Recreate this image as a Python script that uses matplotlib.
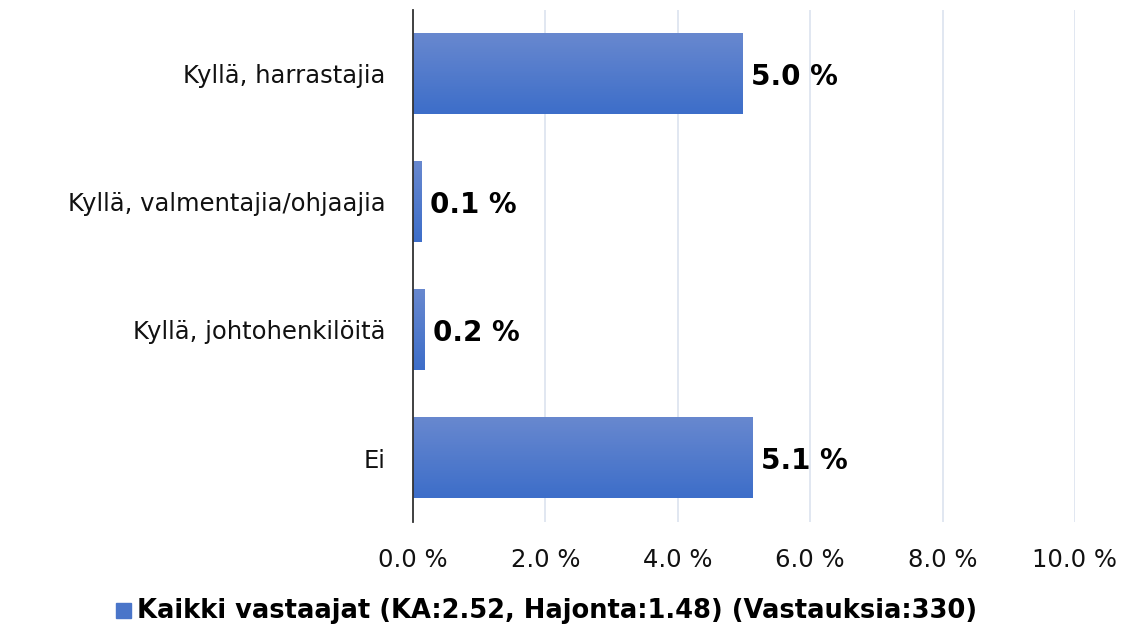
import numpy as np
import matplotlib.pyplot as plt
from matplotlib.colors import LinearSegmentedColormap

categories = ['Kyllä, harrastajia', 'Kyllä, valmentajia/ohjaajia', 'Kyllä, johtohenkilöitä', 'Ei']
values = [4.98, 0.13, 0.17, 5.13]
value_labels = ['5.0 %', '0.1 %', '0.2 %', '5.1 %']
ticks = [0, 2, 4, 6, 8, 10]
tick_labels = ['0.0 %', '2.0 %', '4.0 %', '6.0 %', '8.0 %', '10.0 %']
legend_label = 'Kaikki vastaajat (KA:2.52, Hajonta:1.48) (Vastauksia:330)'

plt.rcParams['font.family'] = ['DejaVu Sans']

fig = plt.figure(figsize=(11.28, 6.3), dpi=100)
ax = fig.add_axes([413 / 1128, 1 - 522 / 630, 662 / 1128, 512 / 630])

y = np.arange(len(categories))
h = 0.63
bars = ax.barh(y, values, height=h, color='#4a75c9', zorder=2)

# vertical gradient on each bar
cmap = LinearSegmentedColormap.from_list('g', ['#6888cf', '#3d6ec9'])
grad = np.linspace(0, 1, 100).reshape(-1, 1)
for b in bars:
    x0, y0 = b.get_x(), b.get_y()
    ax.imshow(grad, cmap=cmap, aspect='auto', zorder=3,
              extent=(x0, x0 + b.get_width(), y0 + b.get_height(), y0),
              origin='upper')

for yi, v, lab in zip(y, values, value_labels):
    ax.annotate(lab, (v, yi), xytext=(6, -2.5), textcoords='offset points',
                va='center', ha='left', fontsize=20, fontweight='bold',
                color='black', zorder=4)

ax.set_xlim(0, 10)
ax.set_ylim(len(categories) - 0.5, -0.5)
ax.set_xticks(ticks)
ax.set_xticklabels(tick_labels, fontsize=17.5, color='#111111')
ax.set_yticks(y)
ax.set_yticklabels(categories, fontsize=17.5, color='#111111')
ax.tick_params(axis='x', length=0, pad=19)
ax.tick_params(axis='y', length=0, pad=20)
ax.xaxis.grid(True, color='#dce3ef', linewidth=1.2, zorder=0)
ax.set_axisbelow(True)
for s in ['top', 'right', 'bottom']:
    ax.spines[s].set_visible(False)
ax.spines['left'].set_color('#333333')
ax.spines['left'].set_linewidth(1.3)
ax.spines['left'].set_zorder(5)

# legend
fig.patches.append(plt.Rectangle((116 / 1128, 1 - 618 / 630), 15 / 1128, 15 / 630,
                                 transform=fig.transFigure, color='#4a75c9'))
fig.text(137 / 1128, 1 - 611 / 630, legend_label, fontsize=18.5, fontweight='bold',
         va='center', ha='left')

fig.savefig('out.png', dpi=100)
